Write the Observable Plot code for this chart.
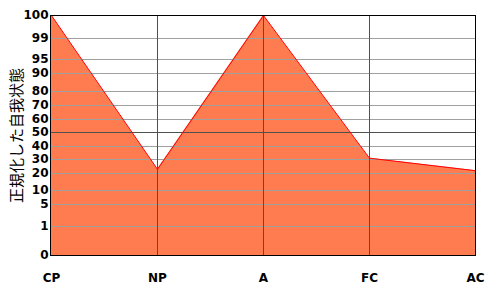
<!DOCTYPE html>
<html>
<head>
<meta charset="utf-8">
<script src="https://cdn.jsdelivr.net/npm/d3@7"></script>
<script src="https://cdn.jsdelivr.net/npm/@observablehq/plot@0.6"></script>
<style>
  html, body { margin: 0; padding: 0; background: #fff; }
  #chart svg { display: block; }
</style>
</head>
<body>
<div id="chart"></div>
<script>
// Categories (egogram scales)
const categories = ["CP", "NP", "A", "FC", "AC"];
// Normalized ego-state values
const values = [100, 23, 100, 31, 22];
// Y tick labels (probability-paper style scale)
const yTicks = [0, 1, 5, 10, 20, 30, 40, 50, 60, 70, 80, 90, 95, 99, 100];
// Piecewise scale layout for the non-linear y axis
const yRange = [255, 226, 204, 190, 173, 159, 146, 132, 119, 105, 91, 73, 59, 38, 15];
const yTitle = "正規化した自我状態";

const data = categories.map((c, i) => ({cat: c, v: values[i]}));
const lightGrid = yTicks.filter(d => d !== 0 && d !== 50 && d !== 100);

const tickFont = {fontFamily: "DejaVu Sans", fontWeight: "bold", fontSize: 12, fill: "#000"};

const chart = Plot.plot({
  width: 500,
  height: 300,
  marginLeft: 50,
  marginRight: 25,
  marginTop: 15,
  marginBottom: 45,
  style: {background: "#fff", fontFamily: "DejaVu Sans"},
  x: {type: "point", domain: categories, padding: 0},
  y: {type: "linear", domain: yTicks, range: yRange},
  marks: [
    Plot.areaY(data, {x: "cat", y: "v", y1: 0, fill: "#FF7B50", fillOpacity: 1}),
    Plot.ruleY(lightGrid, {stroke: "#a0a0a0", strokeWidth: 1, shapeRendering: "crispEdges"}),
    Plot.ruleY([50], {stroke: "#505050", strokeWidth: 1, shapeRendering: "crispEdges"}),
    Plot.ruleX(["NP", "A", "FC"], {stroke: "#505050", strokeWidth: 1, shapeRendering: "crispEdges"}),
    Plot.lineY(data, {x: "cat", y: "v", stroke: "#ff0000", strokeWidth: 1}),
    Plot.frame({stroke: "#000", strokeWidth: 1, shapeRendering: "crispEdges"}),
    Plot.axisY({ticks: yTicks, tickSize: 0, tickPadding: 2, tickFormat: d => String(d),
      label: null, ...tickFont}),
    Plot.axisX({tickSize: 0, tickPadding: 18, label: null, ...tickFont}),
    Plot.text([yTitle], {frameAnchor: "left", dx: -33, rotate: -90, textAnchor: "middle",
      fontFamily: "Noto Sans CJK JP", fontSize: 15, fill: "#000"})
  ]
});
document.getElementById("chart").appendChild(chart);
</script>
</body>
</html>
